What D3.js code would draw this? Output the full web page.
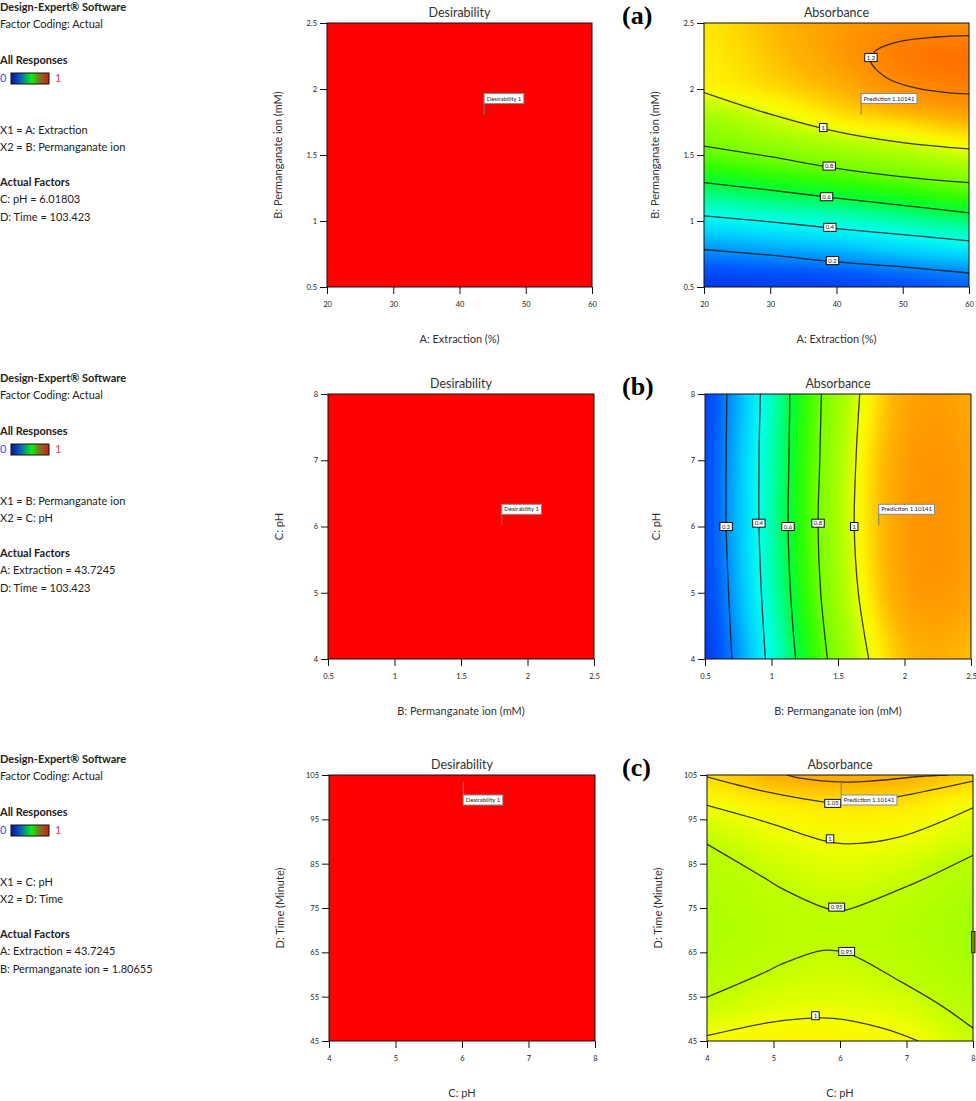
<!DOCTYPE html>
<html>
<head>
<meta charset="utf-8">
<title>Desirability and Absorbance contour plots</title>
<script src="https://cdn.jsdelivr.net/npm/d3@7/dist/d3.min.js"></script>
<style>
html,body{margin:0;padding:0;background:#fff;}
svg{display:block;font-family:Lato,"Open Sans","DejaVu Sans",sans-serif;}
</style>
</head>
<body>
<svg id="chart" width="976" height="1101" viewBox="0 0 976 1101"></svg>
<script>
// ---------------- DATA ----------------
const panelLetters = ["(a)", "(b)", "(c)"];
const infoX1 = ["X1 = A: Extraction", "X1 = B: Permanganate ion", "X1 = C: pH"];
const infoX2 = ["X2 = B: Permanganate ion", "X2 = C: pH", "X2 = D: Time"];
const actualFactors = [
  ["C: pH = 6.01803", "D: Time = 103.423"],
  ["A: Extraction = 43.7245", "D: Time = 103.423"],
  ["A: Extraction = 43.7245", "B: Permanganate ion = 1.80655"]
];
const xTitles = ["A: Extraction (%)", "B: Permanganate ion (mM)", "C: pH"];
const yTitles = ["B: Permanganate ion (mM)", "C: pH", "D: Time (Minute)"];
const xDomains = [[20, 60], [0.5, 2.5], [4, 8]];
const yDomains = [[0.5, 2.5], [4, 8], [45, 105]];
const xTicks = [[20, 30, 40, 50, 60], [0.5, 1, 1.5, 2, 2.5], [4, 5, 6, 7, 8]];
const yTicks = [[0.5, 1, 1.5, 2, 2.5], [4, 5, 6, 7, 8], [45, 55, 65, 75, 85, 95, 105]];
const optimumPoints = [[43.7245, 1.80655], [1.80655, 6.01803], [6.01803, 103.423]];
const desirabilityValue = 1;
const predictionValue = 1.10141;

// absorbance surface (rows: y ascending, cols: x ascending)
const gridXA = [20, 30, 40, 50, 60];
const gridYA = [0.5, 0.75, 1.0, 1.25, 1.5, 1.75, 2.0, 2.25, 2.5];
const absorbA = [
  [0.00, 0.015, 0.03, 0.07, 0.11],
  [0.18, 0.207, 0.234, 0.28, 0.318],
  [0.37, 0.405, 0.439, 0.49, 0.542],
  [0.57, 0.614, 0.658, 0.71, 0.765],
  [0.76, 0.81, 0.861, 0.91, 0.964],
  [0.88, 0.95, 1.02, 1.06, 1.098],
  [1.01, 1.05, 1.10, 1.17, 1.205],
  [1.03, 1.08, 1.14, 1.22, 1.25],
  [1.04, 1.09, 1.14, 1.18, 1.17]
];
const gridXB = [0.5, 0.75, 1.0, 1.25, 1.5, 1.75, 2.0, 2.25, 2.5];
const gridYB = [4, 5, 6, 7, 8];
const absorbB = [
  [0.01, 0.21, 0.42, 0.64, 0.84, 1.00, 1.09, 1.11, 1.09],
  [0.05, 0.255, 0.468, 0.69, 0.89, 1.045, 1.13, 1.15, 1.13],
  [0.07, 0.274, 0.486, 0.711, 0.91, 1.06, 1.14, 1.16, 1.14],
  [0.065, 0.27, 0.48, 0.705, 0.905, 1.055, 1.135, 1.155, 1.135],
  [0.05, 0.25, 0.46, 0.69, 0.88, 1.03, 1.12, 1.14, 1.12]
];
const gridXC = [4, 5, 6, 7, 8];
const gridYC = [45, 52.5, 60, 67.5, 75, 82.5, 90, 97.5, 105];
const absorbC = [
  [1.008, 1.02, 1.02, 1.005, 0.96],
  [0.96, 0.985, 0.99, 0.975, 0.935],
  [0.935, 0.955, 0.965, 0.945, 0.915],
  [0.92, 0.938, 0.948, 0.93, 0.90],
  [0.92, 0.94, 0.951, 0.935, 0.905],
  [0.93, 0.955, 0.975, 0.958, 0.925],
  [0.953, 0.985, 1.002, 0.993, 0.965],
  [0.995, 1.025, 1.04, 1.035, 1.0],
  [1.055, 1.105, 1.115, 1.105, 1.07]
];

// contour lines
const levelsA = ["0.2", "0.4", "0.6", "0.8", "1", "1.2"];
const linesA = [
  [[20, 0.784], [30, 0.741], [40, 0.690], [50, 0.652], [60, 0.606]],
  [[20, 1.039], [30, 0.994], [40, 0.943], [50, 0.897], [60, 0.849]],
  [[20, 1.290], [30, 1.234], [40, 1.173], [50, 1.118], [60, 1.062]],
  [[20, 1.568], [30, 1.487], [40, 1.399], [50, 1.335], [60, 1.290]],
  [[20, 1.973], [30, 1.809], [40, 1.677], [50, 1.594], [60, 1.546]],
  [[60, 2.404], [55.2, 2.394], [49.6, 2.361], [46.1, 2.297], [45.05, 2.222], [45.8, 2.158], [48.1, 2.070], [52.1, 2.006], [56.6, 1.973], [60, 1.963]]
];
const labelsA = [[39.4, 0.70], [39.0, 0.952], [38.5, 1.184], [38.9, 1.416], [38.0, 1.708], [45.2, 2.239]];

const levelsB = ["0.2", "0.4", "0.6", "0.8", "1"];
const linesB = [
  [[0.664, 8], [0.659, 7], [0.659, 6], [0.677, 5], [0.702, 4]],
  [[0.916, 8], [0.906, 7], [0.906, 6], [0.924, 5], [0.954, 4]],
  [[1.138, 8], [1.131, 7], [1.125, 6], [1.143, 5], [1.181, 4]],
  [[1.375, 8], [1.363, 7], [1.350, 6], [1.370, 5], [1.421, 4]],
  [[1.663, 8], [1.635, 7], [1.622, 6], [1.653, 5], [1.731, 4]]
];
const labelsB = [[0.659, 6.0], [0.905, 6.05], [1.124, 6.0], [1.35, 6.05], [1.622, 6.0]];

const levelsC = ["1.1", "1.05", "1", "0.95", "0.95", "1"];
const linesC = [
  [[5.2, 105], [5.4, 104.3], [6.08, 103.4], [6.45, 103.6], [7.2, 104.66], [7.62, 105]],
  [[4, 104.6], [4.9, 101.2], [5.89, 98.7], [6.1, 98.55], [6.9, 100.2], [8, 103.6]],
  [[4, 98.14], [4.89, 94.37], [5.79, 90.08], [6.1, 89.47], [6.9, 91.05], [8, 97.6]],
  [[4, 89.4], [4.9, 81.45], [5.1, 79.6], [5.9, 74.5], [6.1, 74.6], [6.9, 79.2], [7.25, 81.45], [8, 86.9]],
  [[4, 54.9], [4.9, 60.7], [5.1, 62.2], [5.75, 65.45], [6.1, 64.9], [6.9, 58.5], [7.5, 53.2], [8, 47.9]],
  [[4, 46.2], [4.9, 49.1], [5.4, 50.0], [5.9, 50.1], [6.65, 47.85], [7.18, 45]]
];
const labelsC = [null, [5.89, 98.6], [5.85, 90.6], [5.95, 75.2], [6.1, 65.2], [5.63, 50.7]];
const edgeMarkC = [8, 64.9, 69.7];

// colour map of the response
const colorStops = [-0.05, 0.1, 0.2, 0.3, 0.4, 0.5, 0.6, 0.7, 0.8, 0.9, 0.95, 1.0, 1.03, 1.06, 1.1, 1.15, 1.2, 1.3];
const colorHex = ["#0028e0", "#0058ff", "#0090ff", "#00d0ff", "#00fff0", "#00ffa0", "#00ff38", "#30ff00", "#78ff00", "#a4ff00", "#c0ff00", "#f4ff00", "#fff000", "#ffd800", "#ffb400", "#ff9800", "#ff8400", "#ff5c00"];
const barStops = [0, 0.22, 0.4, 0.55, 0.7, 0.85, 1];
const barColors = ["#0a1a90", "#1050c0", "#00b060", "#10f010", "#609020", "#a05018", "#c82010"];

const grids = [[gridXA, gridYA, absorbA], [gridXB, gridYB, absorbB], [gridXC, gridYC, absorbC]];
const allLines = [linesA, linesB, linesC];
const allLevels = [levelsA, levelsB, levelsC];
const allLabels = [labelsA, labelsB, labelsC];

// ---------------- LAYOUT ----------------
const rowBase = [0, 371, 752];
const plotTop = [23, 394, 775];
const plotH = [264, 265, 266];
const plotW = [265, 266, 266];
const desLeft = [327, 328, 329];
const absLeft = [704, 705, 707];

const svg = d3.select("#chart");
const defs = svg.append("defs");
const grad = defs.append("linearGradient").attr("id", "respGrad");
barStops.forEach((s, k) => grad.append("stop").attr("offset", s).attr("stop-color", barColors[k]));

const color = d3.scaleLinear().domain(colorStops).range(colorHex).clamp(true);
const lutMin = -0.1, lutMax = 1.4, lutN = 1500;
const lut = d3.range(lutN + 1).map(k => d3.rgb(color(lutMin + (lutMax - lutMin) * k / lutN)));

function cr(p0, p1, p2, p3, t) {
  return 0.5 * ((2 * p1) + (-p0 + p2) * t + (2 * p0 - 5 * p1 + 4 * p2 - p3) * t * t + (-p0 + 3 * p1 - 3 * p2 + p3) * t * t * t);
}
function bicubic(gx, gy, grid, x, y) {
  let i = d3.bisectRight(gx, x) - 1; i = Math.max(0, Math.min(gx.length - 2, i));
  let j = d3.bisectRight(gy, y) - 1; j = Math.max(0, Math.min(gy.length - 2, j));
  const tx = (x - gx[i]) / (gx[i + 1] - gx[i]);
  const ty = (y - gy[j]) / (gy[j + 1] - gy[j]);
  const cl = (v, n) => Math.max(0, Math.min(n - 1, v));
  const row = k => {
    const r = grid[cl(k, gy.length)];
    const a = c => r[cl(c, gx.length)];
    return cr(a(i - 1), a(i), a(i + 1), a(i + 2), tx);
  };
  return cr(row(j - 1), row(j), row(j + 1), row(j + 2), ty);
}

function infoPanel(i) {
  const b = rowBase[i];
  const g = svg.append("g").attr("font-size", 11).attr("fill", "#222");
  const line = (y, t, bold) => g.append("text").attr("x", 0).attr("y", b + y).attr("dy", "0.35em")
    .attr("font-weight", bold ? "bold" : "normal").text(t);
  line(7, "Design-Expert® Software", true);
  line(24.5, "Factor Coding: Actual");
  line(60.5, "All Responses", true);
  g.append("text").attr("x", 0).attr("y", b + 78.5).attr("dy", "0.35em").attr("fill", "#3050f0").text("0");
  g.append("rect").attr("x", 11).attr("y", b + 73).attr("width", 38).attr("height", 11)
    .attr("fill", "url(#respGrad)").attr("stroke", "#111").attr("stroke-width", 1);
  g.append("text").attr("x", 55).attr("y", b + 78.5).attr("dy", "0.35em").attr("fill", "#e0405a").text("1");
  line(130.5, infoX1[i]);
  line(147, infoX2[i]);
  line(182.5, "Actual Factors", true);
  line(199.5, actualFactors[i][0]);
  line(217, actualFactors[i][1]);
}

function styleAxis(sel) {
  sel.select(".domain").remove();
  sel.attr("font-family", "Lato, sans-serif");
  sel.selectAll(".tick line").attr("stroke", "#111");
  sel.selectAll(".tick text").attr("font-size", 7.5).attr("fill", "#222");
}

function plotFrame(i, left, title) {
  const top = plotTop[i], w = plotW[i], h = plotH[i];
  const xs = d3.scaleLinear().domain(xDomains[i]).range([left, left + w]);
  const ys = d3.scaleLinear().domain(yDomains[i]).range([top + h, top]);
  const g = svg.append("g");
  const clipId = `clip-${i}-${left}`;
  defs.append("clipPath").attr("id", clipId).append("rect")
    .attr("x", left).attr("y", top).attr("width", w).attr("height", h);
  const body = g.append("g").attr("clip-path", `url(#${clipId})`);
  const frame = g.append("g");
  const over = g.append("g");
  frame.append("rect").attr("x", left).attr("y", top).attr("width", w).attr("height", h)
    .attr("fill", "none").attr("stroke", "#111").attr("stroke-width", 1);
  frame.append("text").attr("x", left + w / 2).attr("y", top - 6).attr("text-anchor", "middle")
    .attr("font-size", 12.5).attr("fill", "#333").text(title);
  frame.append("g").attr("transform", `translate(0,${top + h})`)
    .call(d3.axisBottom(xs).tickValues(xTicks[i]).tickFormat(d => String(d)).tickSize(7).tickPadding(8))
    .call(styleAxis);
  frame.append("g").attr("transform", `translate(${left},0)`)
    .call(d3.axisLeft(ys).tickValues(yTicks[i]).tickFormat(d => String(d)).tickSize(7).tickPadding(3))
    .call(styleAxis);
  frame.append("text").attr("x", left + w / 2).attr("y", top + h + 52).attr("dy", "0.35em")
    .attr("text-anchor", "middle").attr("font-size", 11).attr("fill", "#333").text(xTitles[i]);
  frame.append("text").attr("transform", `translate(${left - 49},${top + h / 2}) rotate(-90)`)
    .attr("dy", "0.35em").attr("text-anchor", "middle").attr("font-size", 11).attr("fill", "#333")
    .text(yTitles[i]);
  return { g, body, frame, over, xs, ys, top, w, h, left };
}

function fieldImage(p, gx, gy, grid) {
  const W = Math.round(p.w), H = Math.round(p.h);
  const cv = document.createElement("canvas");
  cv.width = W; cv.height = H;
  const ctx = cv.getContext("2d");
  const img = ctx.createImageData(W, H);
  for (let py = 0; py < H; py++) {
    const yv = p.ys.invert(p.top + py + 0.5);
    for (let px = 0; px < W; px++) {
      const xv = p.xs.invert(p.left + px + 0.5);
      const v = bicubic(gx, gy, grid, xv, yv);
      let k = Math.round((v - lutMin) / (lutMax - lutMin) * lutN);
      k = Math.max(0, Math.min(lutN, k));
      const c = lut[k];
      const o = (py * W + px) * 4;
      img.data[o] = c.r; img.data[o + 1] = c.g; img.data[o + 2] = c.b; img.data[o + 3] = 255;
    }
  }
  ctx.putImageData(img, 0, 0);
  p.body.append("image").attr("x", p.left).attr("y", p.top).attr("width", W).attr("height", H)
    .attr("preserveAspectRatio", "none").attr("href", cv.toDataURL());
}

function labelBox(g, cx, cy, text) {
  const t = g.append("text").attr("x", cx).attr("y", cy).attr("dy", "0.35em").attr("text-anchor", "middle")
    .attr("font-size", 6).attr("fill", "#111").text(text);
  const tw = t.node().getComputedTextLength();
  g.insert("rect", () => t.node()).attr("x", cx - tw / 2 - 2).attr("y", cy - 4)
    .attr("width", tw + 4).attr("height", 8).attr("fill", "#fff").attr("stroke", "#111").attr("stroke-width", 1);
}

function drawContours(p, lines, levels, labels) {
  const line = d3.line().x(d => p.xs(d[0])).y(d => p.ys(d[1])).curve(d3.curveCatmullRom.alpha(0.5));
  p.body.selectAll(null).data(lines).join("path").attr("d", line)
    .attr("fill", "none").attr("stroke", "#1a1a1a").attr("stroke-opacity", 0.85).attr("stroke-width", 1.3);
  labels.forEach((pos, k) => {
    if (!pos) return;
    labelBox(p.over, p.xs(pos[0]), p.ys(pos[1]), levels[k]);
  });
}

function flagBox(p, pt, text) {
  const px = p.xs(pt[0]), py = p.ys(pt[1]);
  const down = (py - p.top) < 30;
  const y1 = down ? py + 13 : py - 21;
  p.over.append("line").attr("x1", px).attr("x2", px).attr("y1", py).attr("y2", y1)
    .attr("stroke", "#7a7a7a").attr("stroke-width", 1);
  const t = p.over.append("text").attr("x", px + 2.5).attr("y", y1 + 5).attr("dy", "0.35em")
    .attr("font-size", 6).attr("fill", "#222").text(text);
  const tw = t.node().getComputedTextLength();
  p.over.insert("rect", () => t.node()).attr("x", px).attr("y", y1).attr("width", tw + 5).attr("height", 10)
    .attr("fill", "#fff").attr("stroke", "#8a8a8a").attr("stroke-width", 1);
}

for (let i = 0; i < 3; i++) {
  infoPanel(i);

  const d = plotFrame(i, desLeft[i], "Desirability");
  d.body.append("rect").attr("x", d.xs(xDomains[i][0])).attr("y", d.ys(yDomains[i][1]))
    .attr("width", d.xs(xDomains[i][1]) - d.xs(xDomains[i][0]))
    .attr("height", d.ys(yDomains[i][0]) - d.ys(yDomains[i][1]))
    .attr("fill", "#fe0000");
  flagBox(d, optimumPoints[i], "Desirability " + desirabilityValue);

  const a = plotFrame(i, absLeft[i], "Absorbance");
  fieldImage(a, grids[i][0], grids[i][1], grids[i][2]);
  drawContours(a, allLines[i], allLevels[i], allLabels[i]);
  if (i === 2) {
    a.over.append("rect").attr("x", a.xs(edgeMarkC[0]) - 1.5).attr("y", a.ys(edgeMarkC[2]))
      .attr("width", 3.5).attr("height", a.ys(edgeMarkC[1]) - a.ys(edgeMarkC[2]))
      .attr("fill", "#6d8c10").attr("stroke", "#222").attr("stroke-width", 1);
  }
  flagBox(a, optimumPoints[i], "Prediction " + predictionValue);

  svg.append("text").attr("x", 622).attr("y", rowBase[i] + 24)
    .style("font-family", "'Liberation Serif','Times New Roman',serif").attr("font-weight", "bold")
    .attr("font-size", 26).attr("fill", "#000").text(panelLetters[i]);
}
</script>
</body>
</html>
